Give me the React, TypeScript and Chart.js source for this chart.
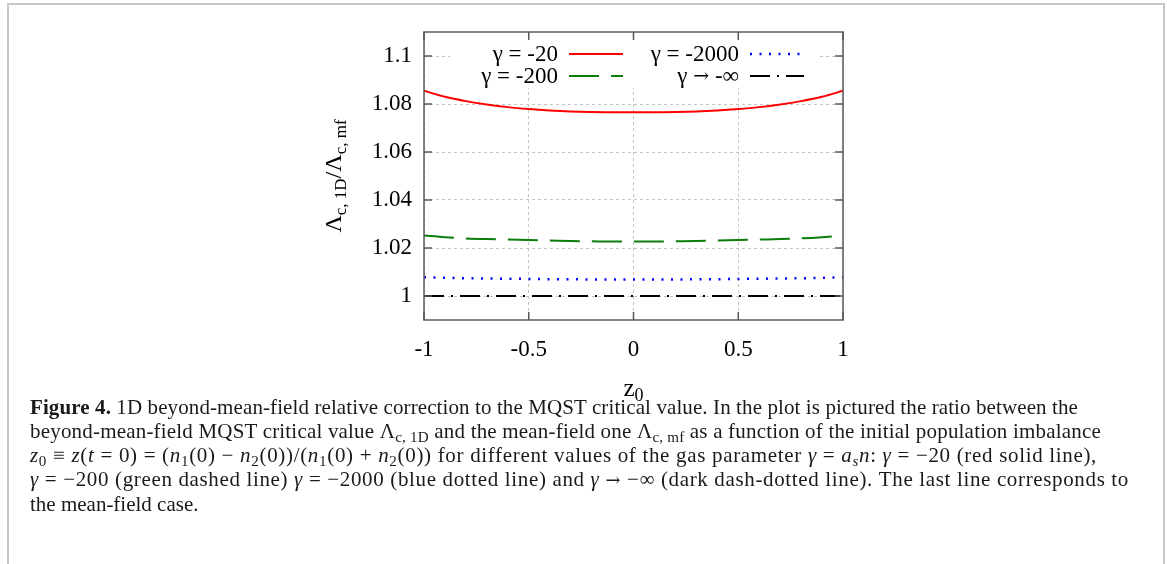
import React, { useEffect, useLayoutEffect, useRef } from "react";
import { Chart, registerables } from "chart.js";

Chart.register(...registerables);

// ---- data ----
const z0Values = [-1, -0.9, -0.8, -0.7, -0.6, -0.5, -0.4, -0.3, -0.2, -0.1, 0, 0.1, 0.2, 0.3, 0.4, 0.5, 0.6, 0.7, 0.8, 0.9, 1];
const gammaMinus20 = [1.0855, 1.083, 1.0812, 1.0798, 1.0787, 1.0779, 1.0773, 1.0769, 1.0767, 1.0766, 1.0766, 1.0766, 1.0767, 1.0769, 1.0773, 1.0779, 1.0787, 1.0798, 1.0812, 1.083, 1.0855];
const gammaMinus200 = [1.0252, 1.0245, 1.024, 1.0237, 1.0235, 1.0233, 1.0231, 1.0229, 1.0228, 1.0227, 1.0227, 1.0227, 1.0228, 1.0229, 1.0231, 1.0233, 1.0235, 1.0237, 1.024, 1.0245, 1.0252];
const gammaMinus2000 = [1.0078, 1.0076, 1.0074, 1.0073, 1.0072, 1.0071, 1.007, 1.007, 1.0069, 1.0069, 1.0069, 1.0069, 1.0069, 1.007, 1.007, 1.0071, 1.0072, 1.0073, 1.0074, 1.0076, 1.0078];
const gammaMinusInf = [1, 1, 1, 1, 1, 1, 1, 1, 1, 1, 1, 1, 1, 1, 1, 1, 1, 1, 1, 1, 1];
const seriesLabels = ["γ = -20", "γ = -200", "γ = -2000", "γ → -∞"];

const xTicks = [-1, -0.5, 0, 0.5, 1];
const xTickLabels = ["-1", "-0.5", "0", "0.5", "1"];
const yTicks = [1, 1.02, 1.04, 1.06, 1.08, 1.1];
const yTickLabels = ["1", "1.02", "1.04", "1.06", "1.08", "1.1"];
const xRange = [-1, 1];
const yRange = [0.99, 1.11];

const SERIF = '"Liberation Serif", "Times New Roman", serif';
const ARROW_FONT = '"DejaVu Serif", serif';

const toPoints = (ys: number[]) => z0Values.map((x, i) => ({ x, y: ys[i] }));

const framePlugin = {
  id: "gnuFrame",
  afterDraw(chart: any) {
    const { ctx, chartArea: ca, scales } = chart;
    ctx.save();
    // key (legend) box
    ctx.fillStyle = "#ffffff";
    ctx.fillRect(ca.left + 26, ca.top + 1, ca.right - ca.left - 51, 55);
    ctx.textAlign = "left";
    ctx.textBaseline = "middle";
    const fontFor = (ch: string) => (ch === "→" ? `19px ${ARROW_FONT}` : `23px ${SERIF}`);
    chart.data.datasets.forEach((ds: any, i: number) => {
      const col = Math.floor(i / 2);
      const row = i % 2;
      const tr = ca.left + (col === 0 ? 134 : 315);
      const y = ca.top + (row === 0 ? 22 : 44);
      ctx.fillStyle = "#000";
      const chars = Array.from(String(ds.label));
      let w = 0;
      chars.forEach((ch) => {
        ctx.font = fontFor(ch);
        w += ctx.measureText(ch).width;
      });
      let x = tr - w;
      chars.forEach((ch) => {
        ctx.font = fontFor(ch);
        ctx.fillText(ch, x, y + 1);
        x += ctx.measureText(ch).width;
      });
      ctx.save();
      ctx.strokeStyle = ds.borderColor;
      ctx.lineWidth = ds.borderWidth;
      ctx.setLineDash(ds.borderDash || []);
      ctx.beginPath();
      ctx.moveTo(tr + 11, y);
      ctx.lineTo(tr + 65, y);
      ctx.stroke();
      ctx.restore();
    });
    // frame
    ctx.strokeStyle = "#5a5a5a";
    ctx.lineWidth = 1.5;
    ctx.setLineDash([]);
    ctx.strokeRect(ca.left, ca.top, ca.right - ca.left, ca.bottom - ca.top);
    // inward ticks, mirrored
    const tl = 8;
    ctx.beginPath();
    yTicks.forEach((v) => {
      const py = scales.y.getPixelForValue(v);
      ctx.moveTo(ca.left, py);
      ctx.lineTo(ca.left + tl, py);
      ctx.moveTo(ca.right, py);
      ctx.lineTo(ca.right - tl, py);
    });
    xTicks.forEach((v) => {
      const px = scales.x.getPixelForValue(v);
      ctx.moveTo(px, ca.bottom);
      ctx.lineTo(px, ca.bottom - tl);
      ctx.moveTo(px, ca.top);
      ctx.lineTo(px, ca.top + tl);
    });
    ctx.stroke();

    // axis titles with subscripts
    ctx.fillStyle = "#000";
    ctx.textAlign = "left";
    ctx.textBaseline = "alphabetic";
    const drawSegs = (segs: { t: string; s: number; d: number }[]) => {
      let w = 0;
      segs.forEach((sg) => {
        ctx.font = `${sg.s}px ${SERIF}`;
        w += ctx.measureText(sg.t).width;
      });
      let x = -w / 2;
      segs.forEach((sg) => {
        ctx.font = `${sg.s}px ${SERIF}`;
        ctx.fillText(sg.t, x, sg.d);
        x += ctx.measureText(sg.t).width;
      });
    };
    ctx.save();
    ctx.translate(51, (ca.top + ca.bottom) / 2);
    ctx.rotate(-Math.PI / 2);
    drawSegs([
      { t: "Λ", s: 24, d: 0 },
      { t: "c, 1D", s: 17, d: 5 },
      { t: "/Λ", s: 24, d: 0 },
      { t: "c, mf", s: 17, d: 5 },
    ]);
    ctx.restore();
    ctx.save();
    ctx.translate((ca.left + ca.right) / 2, ca.bottom + 76);
    drawSegs([
      { t: "z", s: 25, d: 0 },
      { t: "0", s: 18, d: 5 },
    ]);
    ctx.restore();
    ctx.restore();
  },
};

function GnuChart() {
  const ref = useRef<HTMLCanvasElement | null>(null);
  useEffect(() => {
    if (!ref.current) return;
    const chart = new Chart(ref.current, {
      type: "line",
      data: {
        datasets: [
          { label: seriesLabels[0], data: toPoints(gammaMinus20), borderColor: "#ff0000", borderWidth: 2, borderDash: [] },
          { label: seriesLabels[1], data: toPoints(gammaMinus200), borderColor: "#0a7d0a", borderWidth: 2, borderDash: [30, 12] },
          { label: seriesLabels[2], data: toPoints(gammaMinus2000), borderColor: "#0000ff", borderWidth: 2.5, borderDash: [2, 7.5] },
          { label: seriesLabels[3], data: toPoints(gammaMinusInf), borderColor: "#000000", borderWidth: 2, borderDash: [20, 7, 2, 7] },
        ] as any,
      },
      options: {
        responsive: false,
        animation: false,
        events: [],
        layout: { padding: { top: 32, right: 47, bottom: 30, left: 0 } },
        elements: { point: { radius: 0 }, line: { cubicInterpolationMode: "monotone", fill: false } },
        plugins: { legend: { display: false }, tooltip: { enabled: false } },
        scales: {
          x: {
            type: "linear",
            min: xRange[0],
            max: xRange[1],
            afterBuildTicks: (s: any) => {
              s.ticks = xTicks.map((v) => ({ value: v }));
            },
            afterFit: (s: any) => {
              s.height = 60;
            },
            ticks: {
              autoSkip: false,
              maxRotation: 0,
              padding: 16,
              color: "#000",
              font: { family: SERIF, size: 23 },
              callback: (v: any) => xTickLabels[xTicks.indexOf(Number(v))],
            },
            grid: { color: "#c4c4c4", lineWidth: 1, drawTicks: false },
            border: { display: false, dash: [3, 3] },
          },
          y: {
            type: "linear",
            min: yRange[0],
            max: yRange[1],
            afterBuildTicks: (s: any) => {
              s.ticks = yTicks.map((v) => ({ value: v }));
            },
            afterFit: (s: any) => {
              s.width = 134;
            },
            ticks: {
              autoSkip: false,
              padding: 12,
              color: "#000",
              font: { family: SERIF, size: 23 },
              callback: (v: any) => yTickLabels[yTicks.findIndex((t) => Math.abs(t - Number(v)) < 1e-9)],
            },
            grid: { color: "#c4c4c4", lineWidth: 1, drawTicks: false },
            border: { display: false, dash: [3, 3] },
          },
        },
      } as any,
      plugins: [framePlugin],
    });
    return () => chart.destroy();
  }, []);
  return (
    <canvas
      ref={ref}
      width={600}
      height={410}
      style={{ position: "absolute", left: 290, top: 0, width: 600, height: 410 }}
    />
  );
}

const subStyle: React.CSSProperties = { fontSize: "0.72em", verticalAlign: "-0.28em", lineHeight: 0 };
const arrowStyle: React.CSSProperties = { fontFamily: ARROW_FONT, fontSize: "0.85em" };

// right edges of the justified caption lines (page x), last line is left natural
const captionRightEdges = [1078, 1101, 1097, 1129, 0];

function Caption() {
  const lineRefs = useRef<(HTMLSpanElement | null)[]>([]);
  useLayoutEffect(() => {
    lineRefs.current.forEach((el, i) => {
      if (!el || !captionRightEdges[i]) return;
      el.style.letterSpacing = "0px";
      const r = el.getBoundingClientRect();
      const chars = (el.textContent || "").length;
      const extra = captionRightEdges[i] - r.right;
      el.style.letterSpacing = `${extra / chars}px`;
    });
  }, []);
  const setRef = (i: number) => (el: HTMLSpanElement | null) => {
    lineRefs.current[i] = el;
  };
  const lineStyle: React.CSSProperties = { display: "inline-block" };
  return (
    <div
      style={{
        position: "absolute",
        left: 30,
        top: 395,
        fontFamily: SERIF,
        fontSize: 21,
        lineHeight: "24px",
        color: "#1a1a1a",
        whiteSpace: "nowrap",
      }}
    >
      <div>
        <span ref={setRef(0)} style={lineStyle}>
          <b>Figure 4.</b> 1D beyond-mean-field relative correction to the MQST critical value. In the plot is pictured the ratio between the
        </span>
      </div>
      <div>
        <span ref={setRef(1)} style={lineStyle}>
          beyond-mean-field MQST critical value Λ<sub style={subStyle}>c, 1D</sub> and the mean-field one Λ<sub style={subStyle}>c, mf</sub> as a function of the initial population imbalance
        </span>
      </div>
      <div>
        <span ref={setRef(2)} style={lineStyle}>
          <i>z</i><sub style={subStyle}>0</sub> ≡ <i>z</i>(<i>t</i> = 0) = (<i>n</i><sub style={subStyle}>1</sub>(0) − <i>n</i><sub style={subStyle}>2</sub>(0))/(<i>n</i><sub style={subStyle}>1</sub>(0) + <i>n</i><sub style={subStyle}>2</sub>(0)) for different values of the gas parameter <i>γ</i> = <i>a</i><sub style={subStyle}><i>s</i></sub><i>n</i>: <i>γ</i> = −20 (red solid line),
        </span>
      </div>
      <div>
        <span ref={setRef(3)} style={lineStyle}>
          <i>γ</i> = −200 (green dashed line) <i>γ</i> = −2000 (blue dotted line) and <i>γ</i> <span style={arrowStyle}>→</span> −∞ (dark dash-dotted line). The last line corresponds to
        </span>
      </div>
      <div>
        <span ref={setRef(4)} style={lineStyle}>the mean-field case.</span>
      </div>
    </div>
  );
}

export default function App() {
  return (
    <div>
      <div
        style={{
          position: "absolute",
          left: 7,
          top: 3,
          width: 1158,
          height: 561,
          borderTop: "2px solid #c8c8c8",
          borderLeft: "2px solid #c8c8c8",
          borderRight: "2px solid #c8c8c8",
          boxSizing: "border-box",
        }}
      />
      <GnuChart />
      <Caption />
    </div>
  );
}
